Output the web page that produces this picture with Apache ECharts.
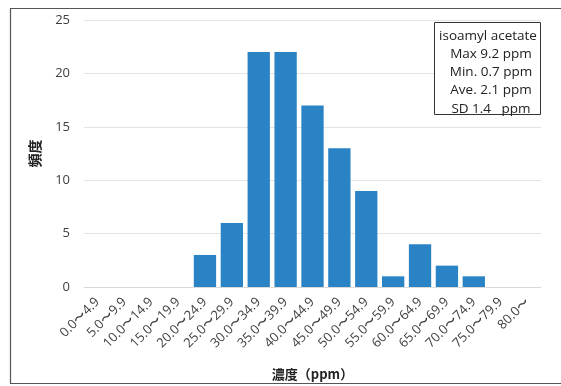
<!DOCTYPE html>
<html><head><meta charset="utf-8">
<script src="https://cdn.jsdelivr.net/npm/echarts@6/dist/echarts.min.js"></script>
<style>html,body{margin:0;padding:0;background:#fff}#c{width:561px;height:386px}</style>
</head><body><div id="c"></div>
<script>
const categories = ['0.0〜4.9','5.0〜9.9','10.0〜14.9','15.0〜19.9','20.0〜24.9','25.0〜29.9','30.0〜34.9','35.0〜39.9','40.0〜44.9','45.0〜49.9','50.0〜54.9','55.0〜59.9','60.0〜64.9','65.0〜69.9','70.0〜74.9','75.0〜79.9','80.0〜'];
const counts = [0,0,0,0,3,6,22,22,17,13,9,1,4,2,1,0,0];
const yTicks = {min:0, max:25, interval:5};
const statLines = ['isoamyl acetate','Max 9.2 ppm','Min. 0.7 ppm','Ave. 2.1 ppm','SD 1.4   ppm'];
const xTitle = '濃度（ppm）';
const yTitle = '頻度';

const font = '"Open Sans","Noto Sans",sans-serif';
const chart = echarts.init(document.getElementById('c'), null, {renderer:'canvas'});
chart.setOption({
  animation:false,
  grid:{left:84,right:20,top:20,bottom:98,containLabel:false},
  xAxis:{type:'category',data:categories,
    axisLine:{show:true,lineStyle:{color:'#d9d9d9'}},axisTick:{show:false},
    axisLabel:{rotate:45,interval:0,fontSize:13,color:'#404040',fontFamily:font,margin:13},
    name:xTitle,nameLocation:'middle',nameGap:81,
    nameTextStyle:{fontSize:13,fontWeight:'bold',color:'#222',fontFamily:'"Noto Sans CJK JP",sans-serif'}},
  yAxis:{type:'value',min:yTicks.min,max:yTicks.max,interval:yTicks.interval,
    axisLine:{show:false},axisTick:{show:false},
    splitLine:{lineStyle:{color:'#e3e3e3'}},
    axisLabel:{fontSize:13,color:'#404040',fontFamily:font,margin:14},
    name:yTitle,nameLocation:'middle',nameGap:42,nameRotate:90,
    nameTextStyle:{fontSize:14,fontWeight:'bold',color:'#222',fontFamily:'"Noto Sans CJK JP",sans-serif'}},
  series:[{type:'bar',data:counts,barCategoryGap:'17%',
    itemStyle:{color:'#2a83c4'}}],
  graphic:[
    {type:'rect',shape:{x:10.5,y:8.5,width:560,height:375},style:{fill:'none',stroke:'#555',lineWidth:1.2},silent:true},
    {type:'rect',shape:{x:434.5,y:22.5,width:106,height:92},style:{fill:'#fff',stroke:'#333',lineWidth:1},z:100},
    ...statLines.map((t,i)=>({type:'text',x:i===0?488:491,y:35.7+i*18.3,z:101,
      style:{text:t,align:'center',verticalAlign:'middle',fontSize:13.5,fill:'#222',fontFamily:font}}))
  ]
});
</script></body></html>
